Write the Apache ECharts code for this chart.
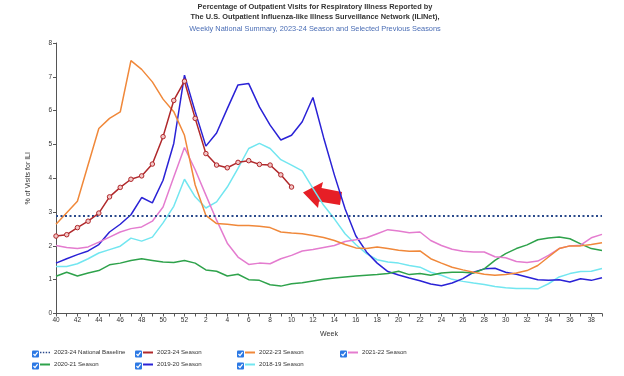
<!DOCTYPE html>
<html><head><meta charset="utf-8">
<script src="https://cdn.jsdelivr.net/npm/echarts@6/dist/echarts.min.js"></script>
<style>html,body{margin:0;padding:0;background:#fff}#c{width:624px;height:376px}</style>
</head><body><div id="c"></div>
<script>
var weeks = ['40','41','42','43','44','45','46','47','48','49','50','51','52','1','2','3','4','5','6','7','8','9','10','11','12','13','14','15','16','17','18','19','20','21','22','23','24','25','26','27','28','29','30','31','32','33','34','35','36','37','38','39'];
var baseline = 2.9;
var s2324 = [2.29,2.33,2.54,2.73,2.97,3.45,3.73,3.97,4.07,4.42,5.23,6.30,6.87,5.77,4.73,4.39,4.31,4.47,4.52,4.41,4.39,4.10,3.74];
var s2223 = [2.64,2.98,3.32,4.4,5.47,5.77,5.96,7.48,7.22,6.85,6.34,5.97,5.27,3.8,2.90,2.66,2.64,2.60,2.60,2.58,2.54,2.41,2.38,2.36,2.31,2.25,2.16,2.04,1.94,1.92,1.97,1.92,1.87,1.84,1.85,1.62,1.49,1.37,1.29,1.22,1.16,1.13,1.15,1.20,1.27,1.42,1.67,1.92,2.00,2.00,2.04,2.09];
var s2122 = [2.01,1.95,1.92,1.97,2.11,2.26,2.41,2.51,2.56,2.73,3.15,4.04,4.91,4.25,3.5,2.76,2.08,1.67,1.45,1.49,1.47,1.62,1.72,1.85,1.89,1.95,2.01,2.13,2.18,2.24,2.36,2.48,2.44,2.39,2.41,2.16,2.01,1.90,1.84,1.82,1.82,1.68,1.65,1.54,1.51,1.55,1.72,1.92,2.00,2.02,2.24,2.34];
var s2021 = [1.10,1.22,1.11,1.20,1.27,1.44,1.49,1.57,1.62,1.57,1.52,1.51,1.57,1.49,1.29,1.25,1.11,1.16,1.00,0.98,0.85,0.81,0.88,0.91,0.96,1.01,1.05,1.08,1.11,1.13,1.15,1.18,1.25,1.15,1.18,1.13,1.20,1.22,1.22,1.20,1.32,1.57,1.77,1.92,2.03,2.18,2.23,2.26,2.21,2.06,1.92,1.86];
var s1920 = [1.49,1.62,1.74,1.85,2.04,2.41,2.64,2.92,3.43,3.27,3.94,5.03,7.05,5.97,4.95,5.34,6.06,6.76,6.80,6.11,5.57,5.13,5.27,5.67,6.39,5.2,4.1,3.1,2.3,1.82,1.49,1.24,1.14,1.05,0.97,0.87,0.82,0.90,1.03,1.22,1.32,1.34,1.22,1.16,1.08,1.00,0.98,1.00,0.93,1.03,0.98,1.06];
var s1819 = [1.39,1.39,1.47,1.62,1.79,1.89,1.99,2.23,2.14,2.26,2.68,3.17,3.97,3.45,3.12,3.30,3.74,4.29,4.88,5.03,4.88,4.55,4.39,4.22,3.7,3.2,2.8,2.36,2.04,1.77,1.59,1.52,1.49,1.42,1.37,1.22,1.13,1.01,0.95,0.90,0.86,0.80,0.76,0.74,0.74,0.73,0.88,1.08,1.18,1.24,1.25,1.33];
var yTicks = [0,1,2,3,4,5,6,7,8];

var names = ['2023-24 National Baseline','2023-24 Season','2022-23 Season','2021-22 Season','2020-21 Season','2019-20 Season','2018-19 Season'];
var colors = ['#2b4a8b','#b0282b','#f0883a','#e47ccf','#2ea24b','#2a22d6','#72e6f0'];
var FONT = 'Arial, "Liberation Sans", sans-serif';

function lineSeries(i, data, extra) {
  var s = {name: names[i], type: 'line', data: data, symbol: 'none', smooth: false,
    lineStyle: {color: colors[i], width: 1.5}, itemStyle: {color: colors[i]}, silent: true, animation: false};
  if (extra) for (var k in extra) s[k] = extra[k];
  return s;
}

var legendPos = [[40,349.5],[143,349.5],[245,349.5],[348,349.5],[40,361.5],[143,361.5],[245,361.5]];
var legends = names.map(function(n, i){
  return {data: [{name: n, icon: i === 0 ? 'path://M0 0h2v2H0z M4 0h2v2H4z M8 0h2v2H8z M12 0h2v2h-2z' : 'rect',
      itemStyle: {color: colors[i], borderWidth: 0}}],
    left: legendPos[i][0], top: legendPos[i][1], padding: 0, itemWidth: 10, itemHeight: 2, itemGap: 4,
    selectedMode: false, textStyle: {fontSize: 6.1, color: '#333', fontFamily: FONT, padding: [0,0,0,-1]}};
});

var graphics = [];
legendPos.forEach(function(p){
  var x = p[0] - 8, y = p[1] + 4.5;
  graphics.push({type: 'rect', shape: {x: x, y: y - 3.5, width: 7, height: 7, r: 1}, style: {fill: '#2b78e4'}});
  graphics.push({type: 'polyline', shape: {points: [[x+1.5, y], [x+3, y+1.6], [x+5.6, y-1.8]]}, style: {stroke: '#fff', lineWidth: 1.3, fill: null}});
});
graphics.push({type: 'polygon', shape: {points: [[303,192.5],[323,182],[321.5,188],[342,192],[340,205],[319,201.5],[318,208]]}, style: {fill: '#e61f26'}});

var chart = echarts.init(document.getElementById('c'), null, {renderer: 'canvas'});
chart.setOption({
  animation: false,
  backgroundColor: '#fff',
  title: [
    {text: 'Percentage of Outpatient Visits for Respiratory Illness Reported by', left: 315, top: 3, textAlign: 'center', padding: 0,
      textStyle: {fontSize: 7.4, fontWeight: 'bold', color: '#333', fontFamily: FONT}},
    {text: 'The U.S. Outpatient Influenza-like Illness Surveillance Network (ILINet),', left: 315, top: 13.5, textAlign: 'center', padding: 0,
      textStyle: {fontSize: 7.4, fontWeight: 'bold', color: '#333', fontFamily: FONT}},
    {text: 'Weekly National Summary, 2023-24 Season and Selected Previous Seasons', left: 315, top: 25, textAlign: 'center', padding: 0,
      textStyle: {fontSize: 7.4, fontWeight: 'normal', color: '#4a6db5', fontFamily: FONT}}
  ],
  legend: legends,
  grid: {left: 56, right: 22, top: 43, bottom: 62.5},
  xAxis: {
    type: 'category', data: weeks, boundaryGap: false,
    name: 'Week', nameLocation: 'middle', nameGap: 17,
    nameTextStyle: {fontSize: 7, color: '#333', fontFamily: FONT},
    axisLine: {lineStyle: {color: '#555', width: 1}},
    axisTick: {show: true, interval: 0, length: 3, lineStyle: {color: '#555'}},
    axisLabel: {interval: 1, fontSize: 6.5, color: '#333', margin: 3, fontFamily: FONT},
    splitLine: {show: false}
  },
  yAxis: {
    type: 'value', min: 0, max: 8, interval: 1,
    name: '% of Visits for ILI', nameLocation: 'middle', nameGap: 24, nameRotate: 90,
    nameTextStyle: {fontSize: 7, color: '#333', fontFamily: FONT},
    axisLine: {show: true, lineStyle: {color: '#555', width: 1}},
    axisTick: {show: true, length: 3, lineStyle: {color: '#555'}},
    axisLabel: {fontSize: 6.5, color: '#333', margin: 4, fontFamily: FONT,
      formatter: function(v){ return yTicks.indexOf(v) >= 0 ? String(v) : ''; }},
    splitLine: {show: false}
  },
  series: [
    lineSeries(0, [], {markLine: {silent: true, symbol: ['none','none'], label: {show: false},
      lineStyle: {color: colors[0], width: 2, type: [2, 2.5]}, data: [{yAxis: baseline}]}}),
    lineSeries(6, s1819),
    lineSeries(5, s1920),
    lineSeries(4, s2021),
    lineSeries(3, s2122),
    lineSeries(2, s2223),
    lineSeries(1, s2324, {symbol: 'circle', symbolSize: 4.5, showSymbol: true,
      itemStyle: {color: '#f3c7c7', borderColor: colors[1], borderWidth: 1}, z: 5})
  ],
  graphic: graphics
});
</script></body></html>
